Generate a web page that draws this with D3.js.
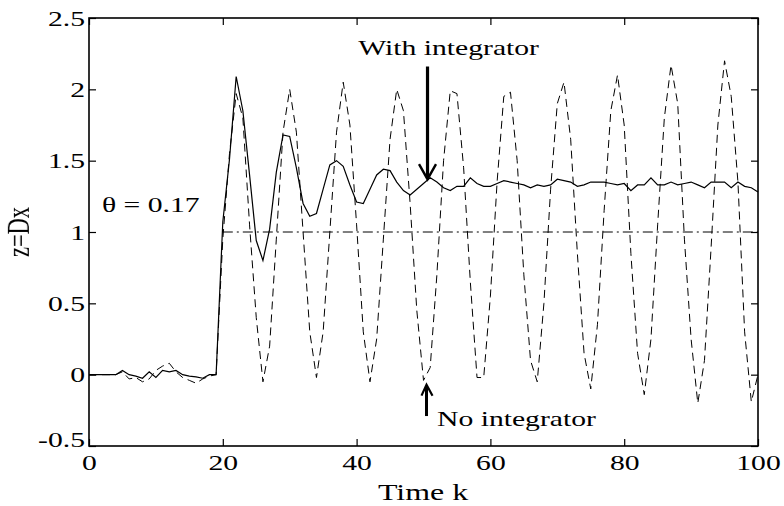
<!DOCTYPE html>
<html>
<head>
<meta charset="utf-8">
<script src="https://cdn.jsdelivr.net/npm/d3@7"></script>
<style>
  html, body { margin: 0; padding: 0; background: #fff; }
  svg text { font-family: "Liberation Serif", "Times New Roman", serif; fill: #000; }
  .gray { -webkit-font-smoothing: antialiased; will-change: transform; }
</style>
</head>
<body>
<svg id="chart" width="784" height="506"></svg>
<script>
// ---- data ----
const steps = d3.range(0, 101); // time k = 0..100
const withIntegrator = [
  0, 0, 0, 0, 0, 0.03, 0.0, -0.01, -0.025, 0.02,
  -0.02, 0.03, 0.02, 0.03, 0.0, -0.01, -0.015, -0.025, 0.0, 0.0,
  1.07, 1.51, 2.09, 1.85, 1.40, 0.94, 0.80, 1.02, 1.42, 1.68,
  1.67, 1.45, 1.20, 1.11, 1.13, 1.30, 1.47, 1.50, 1.46, 1.33,
  1.21, 1.20, 1.30, 1.40, 1.44, 1.43, 1.35, 1.29, 1.26, 1.30,
  1.34, 1.38, 1.35, 1.31, 1.29, 1.32, 1.32, 1.38, 1.34, 1.32,
  1.32, 1.34, 1.36, 1.35, 1.34, 1.33, 1.31, 1.33, 1.32, 1.33,
  1.37, 1.36, 1.35, 1.32, 1.33, 1.35, 1.35, 1.35, 1.34, 1.33,
  1.34, 1.29, 1.33, 1.33, 1.38, 1.33, 1.33, 1.35, 1.33, 1.34,
  1.35, 1.33, 1.31, 1.35, 1.35, 1.35, 1.31, 1.35, 1.32, 1.31,
  1.28
];
const noIntegrator = [
  0, 0, 0, 0, 0, 0.02, -0.03, -0.02, -0.05, -0.03,
  0.03, 0.06, 0.08, 0.02, -0.02, -0.04, -0.06, -0.03, -0.01, 0.0,
  0.95, 1.55, 1.97, 1.80, 1.05, 0.40, -0.05, 0.20, 0.95, 1.70,
  2.00, 1.70, 1.00, 0.30, -0.02, 0.30, 1.00, 1.70, 2.05, 1.75,
  1.05, 0.30, -0.05, 0.25, 0.95, 1.65, 2.00, 1.85, 1.20, 0.45,
  -0.04, 0.05, 0.70, 1.50, 1.99, 1.97, 1.45, 0.65, -0.02, -0.02,
  0.55, 1.35, 1.95, 1.98, 1.50, 0.70, 0.10, -0.05, 0.50, 1.30,
  1.90, 2.05, 1.65, 0.85, 0.15, -0.10, 0.35, 1.15, 1.85, 2.10,
  1.75, 0.85, 0.15, -0.14, 0.25, 1.05, 1.80, 2.17, 1.90, 0.95,
  0.25, -0.20, 0.10, 0.90, 1.75, 2.20, 1.95, 1.35, 0.30, -0.19,
  0.0
];
const refK = [20, 100];
const refValue = [1, 1];
const xTicks = [0, 20, 40, 60, 80, 100];
const yTicks = [-0.5, 0, 0.5, 1, 1.5, 2, 2.5];
const yTickLabels = ["-0.5", "0", "0.5", "1", "1.5", "2", "2.5"];
const labels = { x: "Time k", y: "z=Dx", theta: "θ = 0.17", withI: "With integrator", noI: "No integrator" };
const arrowK = 50.6;
const withArrow = { top: 2.16, tip: 1.37 };
const noArrow = { bottom: -0.29, tip: -0.07 };

// ---- drawing ----
const svg = d3.select("#chart");
const FS = 21.5, SX = 1.38;
const x = d3.scaleLinear().domain([0, 100]).range([89, 758]);
const y = d3.scaleLinear().domain([-0.5, 2.5]).range([446, 18]);

// data lines
const line = d3.line().x((d, i) => x(steps[i])).y(d => y(d));
svg.append("path").datum(noIntegrator).attr("d", line)
  .attr("fill", "none").attr("stroke", "#000").attr("stroke-width", 1)
  .attr("stroke-dasharray", "8,5");
svg.append("path").datum(withIntegrator).attr("d", line)
  .attr("fill", "none").attr("stroke", "#000").attr("stroke-width", 1.2);
const refLine = d3.line().x((d, i) => x(refK[i])).y(d => y(d));
svg.append("path").datum(refValue).attr("d", refLine)
  .attr("fill", "none").attr("stroke", "#000").attr("stroke-width", 1)
  .attr("stroke-dasharray", "10,4,2,4");

// axes (ticks inward on all four sides)
function styleAxis(g) {
  g.select(".domain").remove();
  g.selectAll("line").attr("stroke", "#000").attr("stroke-width", 1.2);
}
const gB = svg.append("g").attr("transform", `translate(0,${y(-0.5)})`)
  .call(d3.axisBottom(x).tickValues(xTicks).tickSize(-7).tickSizeOuter(0).tickFormat(d3.format("d")));
styleAxis(gB);
gB.selectAll("text").attr("y", 0).attr("dy", null)
  .attr("font-size", FS).attr("text-anchor", "middle")
  .attr("transform", `translate(0,24) scale(${SX},1)`);
const gT = svg.append("g").attr("transform", `translate(0,${y(2.5)})`)
  .call(d3.axisTop(x).tickValues(xTicks).tickSize(-7).tickSizeOuter(0).tickFormat(""));
styleAxis(gT);
const gL = svg.append("g").attr("transform", `translate(${x(0)},0)`)
  .call(d3.axisLeft(y).tickValues(yTicks).tickSize(-7).tickSizeOuter(0)
    .tickFormat((d, i) => yTickLabels[i]));
styleAxis(gL);
gL.selectAll("text").attr("x", 0).attr("dy", null)
  .attr("font-size", FS).attr("text-anchor", "end")
  .attr("transform", (d) => `translate(-4,${d === -0.5 ? 0 : 7}) scale(${SX},1)`);
const gR = svg.append("g").attr("transform", `translate(${x(100)},0)`)
  .call(d3.axisRight(y).tickValues(yTicks).tickSize(-7).tickSizeOuter(0).tickFormat(""));
styleAxis(gR);

// frame
svg.append("rect").attr("x", x(0)).attr("y", y(2.5))
  .attr("width", x(100) - x(0)).attr("height", y(-0.5) - y(2.5))
  .attr("fill", "none").attr("stroke", "#000").attr("stroke-width", 1.6);

// axis labels
svg.append("text").attr("font-size", 22.5).attr("text-anchor", "middle")
  .attr("transform", `translate(423,500) scale(1.42,1)`).text(labels.x);
svg.append("text").attr("class", "gray").attr("font-size", 22.5).attr("text-anchor", "middle")
  .attr("opacity", 0.999)
  .attr("transform", `translate(29,232) rotate(-90) scale(1,${SX})`).text(labels.y);

// annotations
svg.append("text").attr("font-size", FS)
  .attr("transform", `translate(102,212) scale(${SX},1)`).text(labels.theta);
svg.append("text").attr("font-size", FS).attr("text-anchor", "end")
  .attr("transform", `translate(539,55) scale(${SX},1)`).text(labels.withI);
svg.append("text").attr("font-size", FS)
  .attr("transform", `translate(437,426) scale(${SX},1)`).text(labels.noI);

// arrows
const ax = x(arrowK);
svg.append("line").attr("x1", ax).attr("x2", ax)
  .attr("y1", y(withArrow.top)).attr("y2", y(withArrow.tip) - 2)
  .attr("stroke", "#000").attr("stroke-width", 3.2);
svg.append("path")
  .attr("d", `M${ax - 8.5},${y(withArrow.tip) - 15} L${ax},${y(withArrow.tip)} L${ax + 8.5},${y(withArrow.tip) - 15}`)
  .attr("fill", "none").attr("stroke", "#000").attr("stroke-width", 2.4);
svg.append("line").attr("x1", ax - 1).attr("x2", ax - 1)
  .attr("y1", y(noArrow.bottom)).attr("y2", y(noArrow.tip) + 2)
  .attr("stroke", "#000").attr("stroke-width", 3);
svg.append("path")
  .attr("d", `M${ax - 6},${y(noArrow.tip) + 11} L${ax - 1},${y(noArrow.tip)} L${ax + 5},${y(noArrow.tip) + 11}`)
  .attr("fill", "none").attr("stroke", "#000").attr("stroke-width", 2.2);
</script>
</body>
</html>
